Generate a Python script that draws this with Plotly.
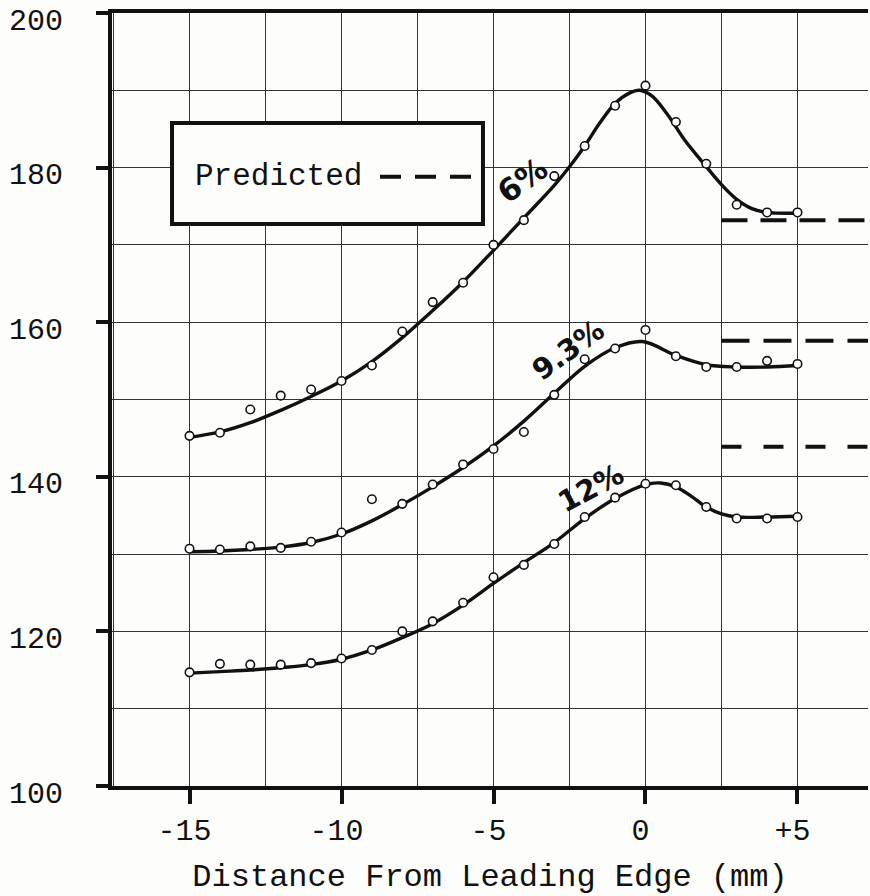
import plotly.graph_objects as go

# ---- data ----
x_pts = [-15, -14, -13, -12, -11, -10, -9, -8, -7, -6, -5, -4, -3, -2, -1, 0, 1, 2, 3, 4, 5]
p6 = [145.3, 145.7, 148.7, 150.5, 151.3, 152.4, 154.4, 158.8, 162.6, 165.1, 170.0, 173.2,
      178.9, 182.8, 188.0, 190.6, 185.9, 180.5, 175.2, 174.2, 174.2]
p9 = [130.7, 130.6, 131.0, 130.8, 131.6, 132.8, 137.1, 136.5, 139.0, 141.6, 143.6, 145.8,
      150.6, 155.2, 156.6, 159.0, 155.6, 154.2, 154.2, 155.0, 154.6]
p12 = [114.7, 115.8, 115.7, 115.7, 115.9, 116.5, 117.6, 120.0, 121.3, 123.7, 127.0, 128.6,
       131.3, 134.8, 137.3, 139.1, 138.9, 136.1, 134.6, 134.6, 134.8]

# fitted (hand-drawn) curves, read at selected x positions
c6_x = [-15, -14, -13, -12, -11, -10, -9, -8, -7, -6, -5, -4, -3, -2.5, -2, -1.5, -1, -0.5,
        -0.2, 0.2, 0.7, 1.3, 1.9, 2.5, 3, 3.5, 4, 5]
c6_y = [145.1, 145.8, 147.0, 148.6, 150.4, 152.4, 154.9, 158.0, 161.5, 165.2, 169.3, 173.5,
        177.7, 180.1, 182.8, 185.8, 188.3, 189.7, 190.0, 189.3, 187.0, 183.5, 180.6, 177.8,
        175.9, 174.7, 174.2, 174.1]
c9_x = [-15, -14, -13, -12, -11, -10, -9, -8, -7, -6, -5, -4, -3, -2, -1, -0.1, 1, 2, 3, 4, 5]
c9_y = [130.3, 130.4, 130.6, 130.9, 131.5, 132.6, 134.3, 136.4, 138.7, 141.2, 144.0, 147.2,
        150.8, 154.3, 156.7, 157.5, 155.7, 154.5, 154.2, 154.2, 154.4]
c12_x = [-15, -14, -13, -12, -11, -10, -9, -8, -7, -6, -5, -4, -3, -2, -1, 0, 0.5, 1, 1.5,
         2, 2.5, 3, 4, 5]
c12_y = [114.6, 114.8, 115.0, 115.3, 115.7, 116.4, 117.6, 119.2, 121.0, 123.4, 126.2, 128.9,
         131.5, 134.6, 137.2, 139.0, 139.2, 138.7, 137.5, 136.1, 135.2, 134.8, 134.8, 134.9]

# predicted levels (dashed)
pred_x = [2.5, 7.6]
pred_6 = 173.2
pred_9 = 157.6
pred_12 = 143.9

x_ticks = [-15, -10, -5, 0, 5]
x_tick_text = ["-15", "-10", "-5", "0", "+5"]
y_ticks = [100, 120, 140, 160, 180, 200]
x_title = "Distance From Leading Edge (mm)"
legend_label = "Predicted"
curve_labels = ["6%", "9.3%", "12%"]

INK = "#111111"
MONO = "Liberation Mono, Courier New, monospace"
HAND = "DejaVu Sans, Noto Sans, sans-serif"

fig = go.Figure()

for cx, cy in [(c6_x, c6_y), (c9_x, c9_y), (c12_x, c12_y)]:
    fig.add_trace(go.Scatter(x=cx, y=cy, mode="lines",
                             line=dict(color=INK, width=3.4, shape="spline", smoothing=1.0),
                             showlegend=False, hoverinfo="skip"))

for py in [p6, p9, p12]:
    fig.add_trace(go.Scatter(x=x_pts, y=py, mode="markers",
                             marker=dict(symbol="circle", size=8.5, color="white",
                                         line=dict(color=INK, width=1.6)),
                             showlegend=False))

for lvl, dash in [(pred_6, "26px,13px"), (pred_9, "28px,14px"), (pred_12, "20px,22px")]:
    fig.add_trace(go.Scatter(x=pred_x, y=[lvl, lvl], mode="lines",
                             line=dict(color=INK, width=4, dash=dash),
                             showlegend=False, hoverinfo="skip"))

# legend box
fig.add_shape(type="rect", xref="paper", yref="paper", x0=0.0794, x1=0.4907, y0=0.727, y1=0.8577,
              line=dict(color=INK, width=4), fillcolor="#fdfdfb", layer="above")
fig.add_annotation(xref="paper", yref="paper", x=0.107, y=0.788, xanchor="left", yanchor="middle",
                   text=legend_label, showarrow=False, font=dict(family=MONO, size=31, color=INK))
fig.add_shape(type="line", xref="paper", yref="paper", x0=0.3545, x1=0.4775, y0=0.7882, y1=0.7882,
              line=dict(color=INK, width=4, dash="21px,14px"), layer="above")

# handwritten curve labels
for (lx, ly, ang, sz), txt in zip([(-4.05, 178.4, -36, 31), (-2.55, 156.4, -36, 29),
                                   (-1.8, 138.6, -28, 29)], curve_labels):
    fig.add_annotation(x=lx, y=ly, text="<b>" + txt + "</b>", showarrow=False, textangle=ang,
                       font=dict(family=HAND, size=sz, color=INK))

fig.update_xaxes(range=[-17.55, 7.32], tickvals=x_ticks, ticktext=x_tick_text,
                 ticks="outside", ticklen=14, tickwidth=4, tickcolor=INK,
                 showline=True, linewidth=4, linecolor=INK, mirror=True,
                 showgrid=True, gridcolor="#333333", gridwidth=1.4, zeroline=False,
                 minor=dict(dtick=2.5, tick0=0, showgrid=True, gridcolor="#333333",
                            gridwidth=1.4, ticklen=0),
                 tickfont=dict(family=MONO, size=30, color=INK), ticklabelstandoff=0,
                 ticklabelshift=-5,
                 title=dict(text=x_title, font=dict(family=MONO, size=32, color=INK), standoff=33),
                 automargin=False, fixedrange=True)
fig.update_yaxes(range=[100, 200], tickvals=y_ticks,
                 ticks="outside", ticklen=12, tickwidth=4, tickcolor=INK,
                 showline=True, linewidth=4, linecolor=INK,
                 showgrid=True, gridcolor="#333333", gridwidth=1.4, zeroline=False,
                 minor=dict(dtick=10, tick0=0, showgrid=True, gridcolor="#333333",
                            gridwidth=1.4, ticklen=0),
                 tickfont=dict(family=MONO, size=30, color=INK), ticklabelstandoff=27,
                 ticklabelshift=6, ticklabeloverflow="allow",
                 automargin=False, fixedrange=True)

fig.update_layout(width=870, height=896, margin=dict(l=112, r=2, t=13, b=110),
                  paper_bgcolor="#fdfdfb", plot_bgcolor="#fdfdfb", showlegend=False)

fig.write_html("out.html", config={"displayModeBar": False})
